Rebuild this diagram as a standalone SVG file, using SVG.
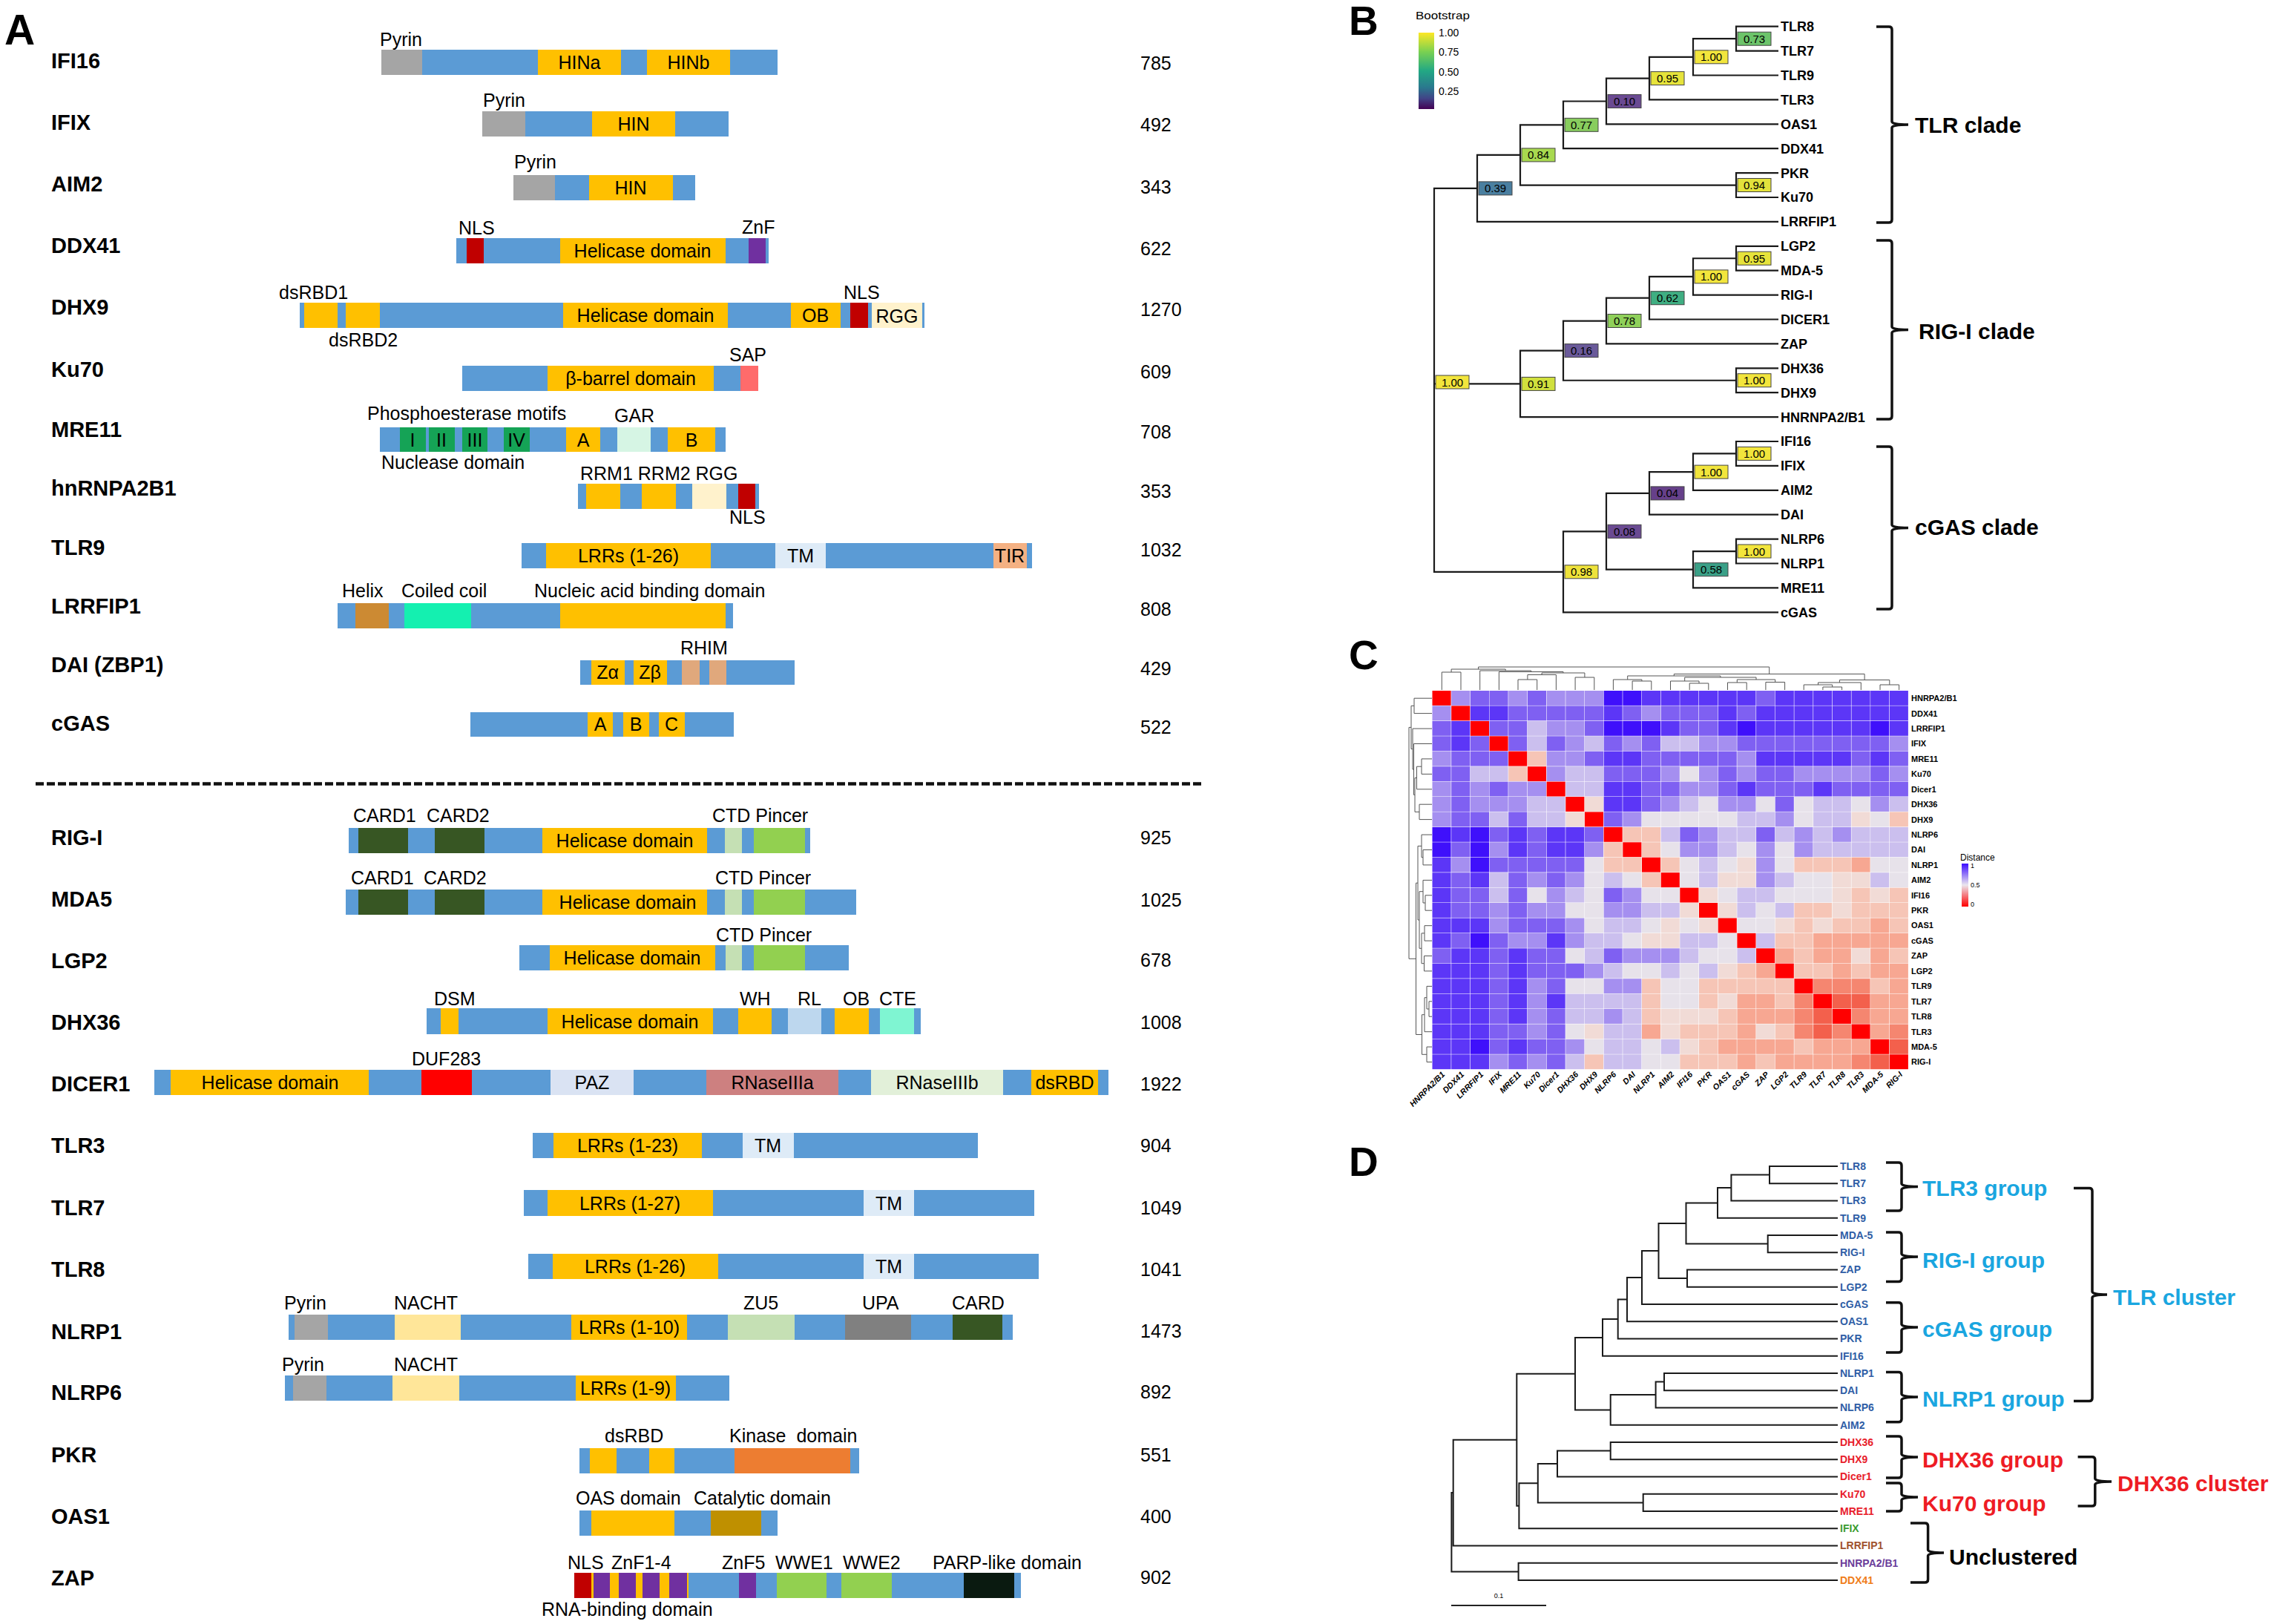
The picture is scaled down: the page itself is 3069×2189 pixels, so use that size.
<svg xmlns="http://www.w3.org/2000/svg" xmlns:xlink="http://www.w3.org/1999/xlink" width="3069" height="2189" viewBox="0 0 3069 2189">
<style>
text{font-family:"Liberation Sans",Arial,sans-serif;fill:#000}
.pl{font-size:55px;font-weight:bold}
.gn{font-size:29px;font-weight:bold}
.num{font-size:25px}
.al{font-size:25px}
.dl{font-size:25px;text-anchor:middle}
.bl{fill:#5b9bd5}.ye{fill:#ffc000}.gy{fill:#a5a5a5}.rd{fill:#c00000}.pu{fill:#7030a0}.cr{fill:#fff2cc}
.sap{fill:#ff6b6b}.gr{fill:#15a356}.gar{fill:#d6f5e4}.tm{fill:#deebf7}.tir{fill:#f4b183}.hx{fill:#cc8a33}
.cc{fill:#14f0b0}.rh{fill:#e0a87c}.dg{fill:#375623}.lg{fill:#c5e0b4}.pg{fill:#92d050}.rl{fill:#bdd7ee}
.cte{fill:#7ff5d2}.duf{fill:#ff0000}.paz{fill:#dae3f3}.r3a{fill:#cd8080}.r3b{fill:#e2f0d9}.na{fill:#ffe699}
.ua{fill:#808080}.ki{fill:#ed7d31}.ca{fill:#bf9000}.pa{fill:#0a1a10}
.tree{fill:none;stroke:#1a1a1a;stroke-width:2.2}
.brk{fill:none;stroke:#111;stroke-width:3.5}
.leafB{font-size:18px;font-weight:bold}
.bsb{stroke:#444;stroke-width:1}
.bst{font-size:15px;text-anchor:middle}
.clade{font-size:30px;font-weight:bold}
.hm use{stroke:none}
.k5{fill:#3f10fb}.k4{fill:#5c36f7}.k3{fill:#7f60f2}.k2{fill:#a58ff0}.k1{fill:#cbbfee}.k0{fill:#e7e2ea}
.ka{fill:#f1dbd6}.kb{fill:#f6c5b6}.kc{fill:#f7a792}.kd{fill:#f58670}.ke{fill:#f3604c}.kr{fill:#ff0000}
.dend{fill:none;stroke:#555;stroke-width:1}
.hl{font-size:11px;font-weight:bold}
.hc{font-size:11px;font-weight:bold;font-style:italic;text-anchor:end}
.leafD{font-size:14px;font-weight:bold}
text.lbD{fill:#2f5ea6}
text.lrD{fill:#e8202a}
.grp{font-size:30px;font-weight:bold}
text.cy{fill:#1aa6e0}
text.red{fill:#ee1c24}
</style>
<defs>
<rect id="c" width="25.1" height="19.9"/>
<linearGradient id="vir" x1="0" y1="0" x2="0" y2="1">
<stop offset="0" stop-color="#fde725"/><stop offset="0.25" stop-color="#7ad151"/><stop offset="0.5" stop-color="#22a884"/><stop offset="0.72" stop-color="#2a788e"/><stop offset="0.86" stop-color="#414487"/><stop offset="1" stop-color="#440154"/>
</linearGradient>
<linearGradient id="dist" x1="0" y1="0" x2="0" y2="1">
<stop offset="0" stop-color="#3c0cff"/><stop offset="0.5" stop-color="#ebe6ee"/><stop offset="1" stop-color="#ff0000"/>
</linearGradient>
</defs>
<rect width="3069" height="2189" fill="#fff"/>

<!-- ================= PANEL A ================= -->
<g id="panelA">
<text class="pl" x="6" y="60" style="font-size:57px">A</text>

<g id="IFI16">
<text class="gn" x="69" y="92">IFI16</text>
<rect class="bl" x="514" y="67" width="534" height="34"/>
<rect class="gy" x="514" y="67" width="55" height="34"/>
<rect class="ye" x="725" y="67" width="112" height="34"/>
<rect class="ye" x="872" y="67" width="112" height="34"/>
<text class="al" x="512" y="62">Pyrin</text>
<text class="dl" x="781" y="93">HINa</text>
<text class="dl" x="928" y="93">HINb</text>
<text class="num" x="1537" y="94">785</text>
</g>

<g id="IFIX">
<text class="gn" x="69" y="175">IFIX</text>
<rect class="bl" x="650" y="150" width="332" height="34"/>
<rect class="gy" x="650" y="150" width="58" height="34"/>
<rect class="ye" x="798" y="150" width="112" height="34"/>
<text class="al" x="651" y="144">Pyrin</text>
<text class="dl" x="854" y="176">HIN</text>
<text class="num" x="1537" y="177">492</text>
</g>

<g id="AIM2">
<text class="gn" x="69" y="258">AIM2</text>
<rect class="bl" x="692" y="236" width="245" height="34"/>
<rect class="gy" x="692" y="236" width="56" height="34"/>
<rect class="ye" x="794" y="236" width="113" height="34"/>
<text class="al" x="693" y="227">Pyrin</text>
<text class="dl" x="850" y="262">HIN</text>
<text class="num" x="1537" y="261">343</text>
</g>

<g id="DDX41">
<text class="gn" x="69" y="341">DDX41</text>
<rect class="bl" x="615" y="321" width="421" height="34"/>
<rect class="rd" x="629" y="321" width="23" height="34"/>
<rect class="ye" x="755" y="321" width="223" height="34"/>
<rect class="pu" x="1009" y="321" width="23" height="34"/>
<text class="al" x="618" y="316">NLS</text>
<text class="al" x="1000" y="315">ZnF</text>
<text class="dl" x="866" y="347">Helicase domain</text>
<text class="num" x="1537" y="344">622</text>
</g>

<g id="DHX9">
<text class="gn" x="69" y="424">DHX9</text>
<rect class="bl" x="404" y="408" width="842" height="34"/>
<rect class="ye" x="410" y="408" width="45" height="34"/>
<rect class="ye" x="466" y="408" width="46" height="34"/>
<rect class="ye" x="759" y="408" width="222" height="34"/>
<rect class="ye" x="1066" y="408" width="67" height="34"/>
<rect class="rd" x="1146" y="408" width="24" height="34"/>
<rect class="cr" x="1175" y="408" width="68" height="34"/>
<text class="al" x="376" y="403">dsRBD1</text>
<text class="al" x="443" y="467">dsRBD2</text>
<text class="al" x="1137" y="403">NLS</text>
<text class="dl" x="870" y="434">Helicase domain</text>
<text class="dl" x="1099" y="434">OB</text>
<text class="dl" x="1209" y="435">RGG</text>
<text class="num" x="1537" y="426">1270</text>
</g>

<g id="Ku70">
<text class="gn" x="69" y="508">Ku70</text>
<rect class="bl" x="623" y="493" width="399" height="34"/>
<rect class="ye" x="738" y="493" width="224" height="34"/>
<rect class="sap" x="998" y="493" width="24" height="34"/>
<text class="al" x="983" y="487">SAP</text>
<text class="dl" x="850" y="519">β-barrel domain</text>
<text class="num" x="1537" y="510">609</text>
</g>

<g id="MRE11">
<text class="gn" x="69" y="589">MRE11</text>
<rect class="bl" x="512" y="576" width="466" height="33"/>
<rect class="gr" x="539" y="576" width="35" height="33"/>
<rect class="gr" x="578" y="576" width="35" height="33"/>
<rect class="gr" x="623" y="576" width="34" height="33"/>
<rect class="gr" x="679" y="576" width="35" height="33"/>
<rect class="ye" x="763" y="576" width="46" height="33"/>
<rect class="gar" x="832" y="576" width="45" height="33"/>
<rect class="ye" x="900" y="576" width="64" height="33"/>
<text class="dl" x="556" y="602">I</text>
<text class="dl" x="595" y="602">II</text>
<text class="dl" x="640" y="602">III</text>
<text class="dl" x="696" y="602">IV</text>
<text class="dl" x="786" y="602">A</text>
<text class="dl" x="932" y="602">B</text>
<text class="al" x="495" y="566">Phosphoesterase motifs</text>
<text class="al" x="828" y="569">GAR</text>
<text class="al" x="514" y="632">Nuclease domain</text>
<text class="num" x="1537" y="591">708</text>
</g>

<g id="hnRNPA2B1">
<text class="gn" x="69" y="668">hnRNPA2B1</text>
<rect class="bl" x="779" y="652" width="244" height="34"/>
<rect class="ye" x="790" y="652" width="46" height="34"/>
<rect class="ye" x="865" y="652" width="46" height="34"/>
<rect class="cr" x="933" y="652" width="46" height="34"/>
<rect class="rd" x="995" y="652" width="23" height="34"/>
<text class="al" x="782" y="647">RRM1 RRM2 RGG</text>
<text class="al" x="983" y="706">NLS</text>
<text class="num" x="1537" y="671">353</text>
</g>

<g id="TLR9">
<text class="gn" x="69" y="748">TLR9</text>
<rect class="bl" x="703" y="732" width="688" height="34"/>
<rect class="ye" x="736" y="732" width="222" height="34"/>
<rect class="tm" x="1045" y="732" width="68" height="34"/>
<rect class="tir" x="1339" y="732" width="45" height="34"/>
<text class="dl" x="847" y="758">LRRs (1-26)</text>
<text class="dl" x="1079" y="758">TM</text>
<text class="dl" x="1361" y="758">TIR</text>
<text class="num" x="1537" y="750">1032</text>
</g>

<g id="LRRFIP1">
<text class="gn" x="69" y="827">LRRFIP1</text>
<rect class="bl" x="455" y="813" width="533" height="34"/>
<rect class="hx" x="479" y="813" width="45" height="34"/>
<rect class="cc" x="545" y="813" width="90" height="34"/>
<rect class="ye" x="755" y="813" width="223" height="34"/>
<text class="al" x="461" y="805">Helix</text>
<text class="al" x="541" y="805">Coiled coil</text>
<text class="al" x="720" y="805">Nucleic acid binding domain</text>
<text class="num" x="1537" y="830">808</text>
</g>

<g id="DAI">
<text class="gn" x="69" y="906">DAI (ZBP1)</text>
<rect class="bl" x="782" y="890" width="289" height="33"/>
<rect class="ye" x="797" y="890" width="45" height="33"/>
<rect class="ye" x="854" y="890" width="45" height="33"/>
<rect class="rh" x="919" y="890" width="24" height="33"/>
<rect class="rh" x="956" y="890" width="23" height="33"/>
<text class="dl" x="819" y="915">Zα</text>
<text class="dl" x="876" y="915">Zβ</text>
<text class="al" x="917" y="882">RHIM</text>
<text class="num" x="1537" y="910">429</text>
</g>

<g id="cGAS">
<text class="gn" x="69" y="985">cGAS</text>
<rect class="bl" x="634" y="960" width="355" height="33"/>
<rect class="ye" x="792" y="960" width="34" height="33"/>
<rect class="ye" x="840" y="960" width="35" height="33"/>
<rect class="ye" x="888" y="960" width="35" height="33"/>
<text class="dl" x="809" y="985">A</text>
<text class="dl" x="857" y="985">B</text>
<text class="dl" x="905" y="985">C</text>
<text class="num" x="1537" y="989">522</text>
</g>

<line x1="48" y1="1056.5" x2="1621" y2="1056.5" stroke="#111" stroke-width="4.5" stroke-dasharray="11 4"/>

<g id="RIG-I">
<text class="gn" x="69" y="1139">RIG-I</text>
<rect class="bl" x="470" y="1116" width="622" height="34"/>
<rect class="dg" x="483" y="1116" width="67" height="34"/>
<rect class="dg" x="586" y="1116" width="67" height="34"/>
<rect class="ye" x="731" y="1116" width="222" height="34"/>
<rect class="lg" x="977" y="1116" width="23" height="34"/>
<rect class="pg" x="1016" y="1116" width="69" height="34"/>
<text class="al" x="476" y="1108">CARD1</text>
<text class="al" x="575" y="1108">CARD2</text>
<text class="al" x="960" y="1108">CTD Pincer</text>
<text class="dl" x="842" y="1142">Helicase domain</text>
<text class="num" x="1537" y="1138">925</text>
</g>

<g id="MDA5">
<text class="gn" x="69" y="1222">MDA5</text>
<rect class="bl" x="466" y="1199" width="688" height="34"/>
<rect class="dg" x="483" y="1199" width="67" height="34"/>
<rect class="dg" x="586" y="1199" width="67" height="34"/>
<rect class="ye" x="731" y="1199" width="222" height="34"/>
<rect class="lg" x="977" y="1199" width="23" height="34"/>
<rect class="pg" x="1016" y="1199" width="69" height="34"/>
<text class="al" x="473" y="1192">CARD1</text>
<text class="al" x="571" y="1192">CARD2</text>
<text class="al" x="964" y="1192">CTD Pincer</text>
<text class="dl" x="846" y="1225">Helicase domain</text>
<text class="num" x="1537" y="1222">1025</text>
</g>

<g id="LGP2">
<text class="gn" x="69" y="1305">LGP2</text>
<rect class="bl" x="700" y="1274" width="444" height="34"/>
<rect class="ye" x="741" y="1274" width="223" height="34"/>
<rect class="lg" x="978" y="1274" width="22" height="34"/>
<rect class="pg" x="1016" y="1274" width="69" height="34"/>
<text class="al" x="965" y="1269">CTD Pincer</text>
<text class="dl" x="852" y="1300">Helicase domain</text>
<text class="num" x="1537" y="1303">678</text>
</g>

<g id="DHX36">
<text class="gn" x="69" y="1388">DHX36</text>
<rect class="bl" x="575" y="1359" width="666" height="35"/>
<rect class="ye" x="594" y="1359" width="24" height="35"/>
<rect class="ye" x="738" y="1359" width="223" height="35"/>
<rect class="ye" x="995" y="1359" width="45" height="35"/>
<rect class="rl" x="1062" y="1359" width="45" height="35"/>
<rect class="ye" x="1125" y="1359" width="46" height="35"/>
<rect class="cte" x="1186" y="1359" width="46" height="35"/>
<text class="al" x="585" y="1355">DSM</text>
<text class="al" x="997" y="1355">WH</text>
<text class="al" x="1075" y="1355">RL</text>
<text class="al" x="1136" y="1355">OB</text>
<text class="al" x="1185" y="1355">CTE</text>
<text class="dl" x="849" y="1386">Helicase domain</text>
<text class="num" x="1537" y="1387">1008</text>
</g>

<g id="DICER1">
<text class="gn" x="69" y="1471">DICER1</text>
<rect class="bl" x="208" y="1442" width="1286" height="34"/>
<rect class="ye" x="230" y="1442" width="267" height="34"/>
<rect class="duf" x="568" y="1442" width="68" height="34"/>
<rect class="paz" x="742" y="1442" width="112" height="34"/>
<rect class="r3a" x="952" y="1442" width="178" height="34"/>
<rect class="r3b" x="1174" y="1442" width="178" height="34"/>
<rect class="ye" x="1390" y="1442" width="90" height="34"/>
<text class="al" x="555" y="1436">DUF283</text>
<text class="dl" x="364" y="1468">Helicase domain</text>
<text class="dl" x="798" y="1468">PAZ</text>
<text class="dl" x="1041" y="1468">RNaseIIIa</text>
<text class="dl" x="1263" y="1468">RNaseIIIb</text>
<text class="dl" x="1435" y="1468">dsRBD</text>
<text class="num" x="1537" y="1470">1922</text>
</g>

<g id="TLR3">
<text class="gn" x="69" y="1554">TLR3</text>
<rect class="bl" x="718" y="1527" width="600" height="34"/>
<rect class="ye" x="746" y="1527" width="200" height="34"/>
<rect class="tm" x="1001" y="1527" width="69" height="34"/>
<text class="dl" x="846" y="1553">LRRs (1-23)</text>
<text class="dl" x="1035" y="1553">TM</text>
<text class="num" x="1537" y="1553">904</text>
</g>

<g id="TLR7">
<text class="gn" x="69" y="1638">TLR7</text>
<rect class="bl" x="706" y="1604" width="688" height="35"/>
<rect class="ye" x="738" y="1604" width="223" height="35"/>
<rect class="tm" x="1164" y="1604" width="68" height="35"/>
<text class="dl" x="849" y="1631">LRRs (1-27)</text>
<text class="dl" x="1198" y="1631">TM</text>
<text class="num" x="1537" y="1637">1049</text>
</g>

<g id="TLR8">
<text class="gn" x="69" y="1721">TLR8</text>
<rect class="bl" x="712" y="1690" width="688" height="34"/>
<rect class="ye" x="745" y="1690" width="223" height="34"/>
<rect class="tm" x="1164" y="1690" width="68" height="34"/>
<text class="dl" x="856" y="1716">LRRs (1-26)</text>
<text class="dl" x="1198" y="1716">TM</text>
<text class="num" x="1537" y="1720">1041</text>
</g>

<g id="NLRP1">
<text class="gn" x="69" y="1805">NLRP1</text>
<rect class="bl" x="389" y="1772" width="976" height="34"/>
<rect class="gy" x="397" y="1772" width="45" height="34"/>
<rect class="na" x="532" y="1772" width="89" height="34"/>
<rect class="ye" x="770" y="1772" width="156" height="34"/>
<rect class="lg" x="981" y="1772" width="90" height="34"/>
<rect class="ua" x="1139" y="1772" width="89" height="34"/>
<rect class="dg" x="1284" y="1772" width="67" height="34"/>
<text class="al" x="383" y="1765">Pyrin</text>
<text class="al" x="531" y="1765">NACHT</text>
<text class="al" x="1002" y="1765">ZU5</text>
<text class="al" x="1162" y="1765">UPA</text>
<text class="al" x="1283" y="1765">CARD</text>
<text class="dl" x="848" y="1798">LRRs (1-10)</text>
<text class="num" x="1537" y="1803">1473</text>
</g>

<g id="NLRP6">
<text class="gn" x="69" y="1887">NLRP6</text>
<rect class="bl" x="384" y="1854" width="599" height="34"/>
<rect class="gy" x="395" y="1854" width="45" height="34"/>
<rect class="na" x="529" y="1854" width="90" height="34"/>
<rect class="ye" x="776" y="1854" width="135" height="34"/>
<text class="al" x="380" y="1848">Pyrin</text>
<text class="al" x="531" y="1848">NACHT</text>
<text class="dl" x="843" y="1880">LRRs (1-9)</text>
<text class="num" x="1537" y="1885">892</text>
</g>

<g id="PKR">
<text class="gn" x="69" y="1971">PKR</text>
<rect class="bl" x="781" y="1952" width="377" height="34"/>
<rect class="ye" x="795" y="1952" width="36" height="34"/>
<rect class="ye" x="875" y="1952" width="34" height="34"/>
<rect class="ki" x="990" y="1952" width="156" height="34"/>
<text class="al" x="815" y="1944">dsRBD</text>
<text class="al" x="983" y="1944" style="word-spacing:7px">Kinase domain</text>
<text class="num" x="1537" y="1970">551</text>
</g>

<g id="OAS1">
<text class="gn" x="69" y="2054">OAS1</text>
<rect class="bl" x="781" y="2036" width="267" height="34"/>
<rect class="ye" x="797" y="2036" width="112" height="34"/>
<rect class="ca" x="958" y="2036" width="68" height="34"/>
<text class="al" x="776" y="2028">OAS domain</text>
<text class="al" x="935" y="2028">Catalytic domain</text>
<text class="num" x="1537" y="2053">400</text>
</g>

<g id="ZAP">
<text class="gn" x="69" y="2137">ZAP</text>
<rect class="bl" x="774" y="2120" width="602" height="34"/>
<rect class="rd" x="774" y="2120" width="23" height="34"/>
<rect class="ye" x="797" y="2120" width="131" height="34"/>
<rect class="pu" x="800" y="2120" width="22" height="34"/>
<rect class="pu" x="834" y="2120" width="23" height="34"/>
<rect class="pu" x="866" y="2120" width="23" height="34"/>
<rect class="pu" x="902" y="2120" width="24" height="34"/>
<rect class="pu" x="996" y="2120" width="23" height="34"/>
<rect class="pg" x="1047" y="2120" width="67" height="34"/>
<rect class="pg" x="1134" y="2120" width="68" height="34"/>
<rect class="pa" x="1299" y="2120" width="68" height="34"/>
<text class="al" x="765" y="2115">NLS</text>
<text class="al" x="824" y="2115">ZnF1-4</text>
<text class="al" x="973" y="2115">ZnF5</text>
<text class="al" x="1045" y="2115">WWE1</text>
<text class="al" x="1136" y="2115">WWE2</text>
<text class="al" x="1257" y="2115">PARP-like domain</text>
<text class="al" x="730" y="2178">RNA-binding domain</text>
<text class="num" x="1537" y="2135">902</text>
</g>
</g>

<!-- ================= PANEL B ================= -->
<g id="panelB">
<text class="pl" x="1818" y="47">B</text>
<g id="B-legend">
<text x="1908" y="26" style="font-size:15px" textLength="73" lengthAdjust="spacingAndGlyphs">Bootstrap</text>
<rect x="1912" y="44" width="21" height="103" fill="url(#vir)"/>
<text x="1939" y="49" style="font-size:14px">1.00</text>
<text x="1939" y="75" style="font-size:14px">0.75</text>
<text x="1939" y="102" style="font-size:14px">0.50</text>
<text x="1939" y="128" style="font-size:14px">0.25</text>
</g>
<g id="B-connectors">
<path class="tree" d="M2397 35.7H2340V68.6H2397 M2340 52.15H2282V101.5H2397 M2282 76.8H2223V134.4H2397 M2223 105.6H2165V167.3H2397 M2165 136.5H2107V200.2H2397 M2397 233.1H2340V266H2397 M2107 168.3H2049V249.55H2340 M2049 208.9H1991V298.9H2397
M2397 331.8H2340V364.7H2397 M2340 348.25H2282V397.6H2397 M2282 372.9H2223V430.5H2397 M2223 401.7H2165V463.4H2397 M2397 496.3H2340V529.2H2397 M2165 432.55H2107V512.75H2340 M2107 472.65H2049V562.1H2397
M2397 595H2340V627.9H2397 M2340 611.45H2282V660.8H2397 M2282 636.1H2223V693.7H2397 M2397 726.6H2340V759.5H2397 M2340 743.05H2282V792.4H2397 M2223 664.9H2165V767.7H2282 M2165 716.3H2107V825.3H2397
M1991 253.9H1933V770.8H2107 M1933 517.4H2049"/>
</g>
<g id="B-leaves">
<text class="leafB" x="2400" y="42">TLR8</text>
<text class="leafB" x="2400" y="75">TLR7</text>
<text class="leafB" x="2400" y="108">TLR9</text>
<text class="leafB" x="2400" y="141">TLR3</text>
<text class="leafB" x="2400" y="174">OAS1</text>
<text class="leafB" x="2400" y="207">DDX41</text>
<text class="leafB" x="2400" y="240">PKR</text>
<text class="leafB" x="2400" y="272">Ku70</text>
<text class="leafB" x="2400" y="305">LRRFIP1</text>
<text class="leafB" x="2400" y="338">LGP2</text>
<text class="leafB" x="2400" y="371">MDA-5</text>
<text class="leafB" x="2400" y="404">RIG-I</text>
<text class="leafB" x="2400" y="437">DICER1</text>
<text class="leafB" x="2400" y="470">ZAP</text>
<text class="leafB" x="2400" y="503">DHX36</text>
<text class="leafB" x="2400" y="536">DHX9</text>
<text class="leafB" x="2400" y="569">HNRNPA2/B1</text>
<text class="leafB" x="2400" y="601">IFI16</text>
<text class="leafB" x="2400" y="634">IFIX</text>
<text class="leafB" x="2400" y="667">AIM2</text>
<text class="leafB" x="2400" y="700">DAI</text>
<text class="leafB" x="2400" y="733">NLRP6</text>
<text class="leafB" x="2400" y="766">NLRP1</text>
<text class="leafB" x="2400" y="799">MRE11</text>
<text class="leafB" x="2400" y="832">cGAS</text>
</g>
<g id="B-bootstrap">
<rect class="bsb" x="2342" y="43.2" width="45" height="18" fill="#6cc46a"/><text class="bst" x="2364.5" y="57.7">0.73</text>
<rect class="bsb" x="2284" y="67.8" width="45" height="18" fill="#f2e53c"/><text class="bst" x="2306.5" y="82.3">1.00</text>
<rect class="bsb" x="2225" y="96.6" width="45" height="18" fill="#e6e33b"/><text class="bst" x="2247.5" y="111.1">0.95</text>
<rect class="bsb" x="2167" y="127.5" width="45" height="18" fill="#6a4a92"/><text class="bst" x="2189.5" y="142">0.10</text>
<rect class="bsb" x="2109" y="159.3" width="45" height="18" fill="#88cd5e"/><text class="bst" x="2131.5" y="173.8">0.77</text>
<rect class="bsb" x="2342" y="240.5" width="45" height="18" fill="#e3e23c"/><text class="bst" x="2364.5" y="255">0.94</text>
<rect class="bsb" x="2051" y="199.9" width="45" height="18" fill="#a8d94f"/><text class="bst" x="2073.5" y="214.4">0.84</text>
<rect class="bsb" x="1993" y="244.9" width="45" height="18" fill="#4a7fa0"/><text class="bst" x="2015.5" y="259.4">0.39</text>
<rect class="bsb" x="2342" y="339.2" width="45" height="18" fill="#e6e33b"/><text class="bst" x="2364.5" y="353.7">0.95</text>
<rect class="bsb" x="2284" y="363.9" width="45" height="18" fill="#f2e53c"/><text class="bst" x="2306.5" y="378.4">1.00</text>
<rect class="bsb" x="2225" y="392.7" width="45" height="18" fill="#3fae82"/><text class="bst" x="2247.5" y="407.2">0.62</text>
<rect class="bsb" x="2167" y="423.5" width="45" height="18" fill="#8fd05a"/><text class="bst" x="2189.5" y="438">0.78</text>
<rect class="bsb" x="2342" y="503.7" width="45" height="18" fill="#f2e53c"/><text class="bst" x="2364.5" y="518.2">1.00</text>
<rect class="bsb" x="2109" y="463.6" width="45" height="18" fill="#6a5a9a"/><text class="bst" x="2131.5" y="478.1">0.16</text>
<rect class="bsb" x="2051" y="508.4" width="45" height="18" fill="#d0e03d"/><text class="bst" x="2073.5" y="522.9">0.91</text>
<rect class="bsb" x="2342" y="602.4" width="45" height="18" fill="#f2e53c"/><text class="bst" x="2364.5" y="616.9">1.00</text>
<rect class="bsb" x="2284" y="627.1" width="45" height="18" fill="#f2e53c"/><text class="bst" x="2306.5" y="641.6">1.00</text>
<rect class="bsb" x="2225" y="655.9" width="45" height="18" fill="#66408a"/><text class="bst" x="2247.5" y="670.4">0.04</text>
<rect class="bsb" x="2342" y="734" width="45" height="18" fill="#f2e53c"/><text class="bst" x="2364.5" y="748.5">1.00</text>
<rect class="bsb" x="2284" y="758.7" width="45" height="18" fill="#3aa087"/><text class="bst" x="2306.5" y="773.2">0.58</text>
<rect class="bsb" x="2167" y="707.3" width="45" height="18" fill="#6a4a92"/><text class="bst" x="2189.5" y="721.8">0.08</text>
<rect class="bsb" x="2109" y="761.8" width="45" height="18" fill="#eee23a"/><text class="bst" x="2131.5" y="776.3">0.98</text>
<rect class="bsb" x="1935" y="506" width="45" height="18" fill="#f2e53c"/><text class="bst" x="1957.5" y="520.5">1.00</text>
</g>
<g id="B-clades">
<path class="brk" d="M2529 36H2546Q2550 36 2550 40V164Q2550 168 2572 168Q2550 168 2550 172V296Q2550 300 2546 300H2529"/>
<text class="clade" x="2581" y="179">TLR clade</text>
<path class="brk" d="M2529 324H2546Q2550 324 2550 328V440.5Q2550 444.5 2572 444.5Q2550 444.5 2550 448.5V561Q2550 565 2546 565H2529"/>
<text class="clade" x="2586" y="457">RIG-I clade</text>
<path class="brk" d="M2529 602H2546Q2550 602 2550 606V707.5Q2550 711.5 2572 711.5Q2550 711.5 2550 715.5V817Q2550 821 2546 821H2529"/>
<text class="clade" x="2581" y="721">cGAS clade</text>
</g>
</g>

<!-- ================= PANEL C ================= -->
<g id="panelC">
<text class="pl" x="1818" y="902">C</text>
<g id="C-heatmap" class="hm">
<g transform="translate(0,931)"><use href="#c" x="1930.5" class="kr"/><use href="#c" x="1956.2" class="k2"/><use href="#c" x="1981.9" class="k3"/><use href="#c" x="2007.5" class="k3"/><use href="#c" x="2033.2" class="k2"/><use href="#c" x="2058.9" class="k3"/><use href="#c" x="2084.6" class="k2"/><use href="#c" x="2110.3" class="k2"/><use href="#c" x="2135.9" class="k2"/><use href="#c" x="2161.6" class="k5"/><use href="#c" x="2187.3" class="k5"/><use href="#c" x="2213" class="k4"/><use href="#c" x="2238.7" class="k4"/><use href="#c" x="2264.3" class="k4"/><use href="#c" x="2290" class="k4"/><use href="#c" x="2315.7" class="k4"/><use href="#c" x="2341.4" class="k4"/><use href="#c" x="2367.1" class="k3"/><use href="#c" x="2392.7" class="k4"/><use href="#c" x="2418.4" class="k4"/><use href="#c" x="2444.1" class="k4"/><use href="#c" x="2469.8" class="k4"/><use href="#c" x="2495.5" class="k4"/><use href="#c" x="2521.1" class="k4"/><use href="#c" x="2546.8" class="k4"/></g>
<g transform="translate(0,951.4)"><use href="#c" x="1930.5" class="k2"/><use href="#c" x="1956.2" class="kr"/><use href="#c" x="1981.9" class="k4"/><use href="#c" x="2007.5" class="k4"/><use href="#c" x="2033.2" class="k3"/><use href="#c" x="2058.9" class="k3"/><use href="#c" x="2084.6" class="k3"/><use href="#c" x="2110.3" class="k3"/><use href="#c" x="2135.9" class="k3"/><use href="#c" x="2161.6" class="k4"/><use href="#c" x="2187.3" class="k3"/><use href="#c" x="2213" class="k2"/><use href="#c" x="2238.7" class="k3"/><use href="#c" x="2264.3" class="k3"/><use href="#c" x="2290" class="k3"/><use href="#c" x="2315.7" class="k4"/><use href="#c" x="2341.4" class="k3"/><use href="#c" x="2367.1" class="k4"/><use href="#c" x="2392.7" class="k4"/><use href="#c" x="2418.4" class="k4"/><use href="#c" x="2444.1" class="k4"/><use href="#c" x="2469.8" class="k4"/><use href="#c" x="2495.5" class="k4"/><use href="#c" x="2521.1" class="k4"/><use href="#c" x="2546.8" class="k4"/></g>
<g transform="translate(0,971.9)"><use href="#c" x="1930.5" class="k3"/><use href="#c" x="1956.2" class="k4"/><use href="#c" x="1981.9" class="kr"/><use href="#c" x="2007.5" class="k3"/><use href="#c" x="2033.2" class="k3"/><use href="#c" x="2058.9" class="k1"/><use href="#c" x="2084.6" class="k2"/><use href="#c" x="2110.3" class="k2"/><use href="#c" x="2135.9" class="k3"/><use href="#c" x="2161.6" class="k5"/><use href="#c" x="2187.3" class="k5"/><use href="#c" x="2213" class="k5"/><use href="#c" x="2238.7" class="k4"/><use href="#c" x="2264.3" class="k3"/><use href="#c" x="2290" class="k3"/><use href="#c" x="2315.7" class="k4"/><use href="#c" x="2341.4" class="k5"/><use href="#c" x="2367.1" class="k4"/><use href="#c" x="2392.7" class="k4"/><use href="#c" x="2418.4" class="k4"/><use href="#c" x="2444.1" class="k4"/><use href="#c" x="2469.8" class="k4"/><use href="#c" x="2495.5" class="k4"/><use href="#c" x="2521.1" class="k5"/><use href="#c" x="2546.8" class="k4"/></g>
<g transform="translate(0,992.3)"><use href="#c" x="1930.5" class="k3"/><use href="#c" x="1956.2" class="k4"/><use href="#c" x="1981.9" class="k3"/><use href="#c" x="2007.5" class="kr"/><use href="#c" x="2033.2" class="k3"/><use href="#c" x="2058.9" class="k1"/><use href="#c" x="2084.6" class="k3"/><use href="#c" x="2110.3" class="k2"/><use href="#c" x="2135.9" class="k1"/><use href="#c" x="2161.6" class="k3"/><use href="#c" x="2187.3" class="k2"/><use href="#c" x="2213" class="k3"/><use href="#c" x="2238.7" class="k1"/><use href="#c" x="2264.3" class="k1"/><use href="#c" x="2290" class="k2"/><use href="#c" x="2315.7" class="k2"/><use href="#c" x="2341.4" class="k3"/><use href="#c" x="2367.1" class="k3"/><use href="#c" x="2392.7" class="k3"/><use href="#c" x="2418.4" class="k3"/><use href="#c" x="2444.1" class="k3"/><use href="#c" x="2469.8" class="k3"/><use href="#c" x="2495.5" class="k3"/><use href="#c" x="2521.1" class="k3"/><use href="#c" x="2546.8" class="k2"/></g>
<g transform="translate(0,1012.7)"><use href="#c" x="1930.5" class="k2"/><use href="#c" x="1956.2" class="k3"/><use href="#c" x="1981.9" class="k3"/><use href="#c" x="2007.5" class="k3"/><use href="#c" x="2033.2" class="kr"/><use href="#c" x="2058.9" class="kb"/><use href="#c" x="2084.6" class="k2"/><use href="#c" x="2110.3" class="k2"/><use href="#c" x="2135.9" class="k3"/><use href="#c" x="2161.6" class="k4"/><use href="#c" x="2187.3" class="k4"/><use href="#c" x="2213" class="k3"/><use href="#c" x="2238.7" class="k3"/><use href="#c" x="2264.3" class="k3"/><use href="#c" x="2290" class="k3"/><use href="#c" x="2315.7" class="k3"/><use href="#c" x="2341.4" class="k2"/><use href="#c" x="2367.1" class="k4"/><use href="#c" x="2392.7" class="k4"/><use href="#c" x="2418.4" class="k4"/><use href="#c" x="2444.1" class="k4"/><use href="#c" x="2469.8" class="k4"/><use href="#c" x="2495.5" class="k3"/><use href="#c" x="2521.1" class="k4"/><use href="#c" x="2546.8" class="k3"/></g>
<g transform="translate(0,1033.2)"><use href="#c" x="1930.5" class="k3"/><use href="#c" x="1956.2" class="k3"/><use href="#c" x="1981.9" class="k1"/><use href="#c" x="2007.5" class="k1"/><use href="#c" x="2033.2" class="kb"/><use href="#c" x="2058.9" class="kr"/><use href="#c" x="2084.6" class="k2"/><use href="#c" x="2110.3" class="k1"/><use href="#c" x="2135.9" class="k1"/><use href="#c" x="2161.6" class="k3"/><use href="#c" x="2187.3" class="k3"/><use href="#c" x="2213" class="k3"/><use href="#c" x="2238.7" class="k2"/><use href="#c" x="2264.3" class="k0"/><use href="#c" x="2290" class="k2"/><use href="#c" x="2315.7" class="k3"/><use href="#c" x="2341.4" class="k2"/><use href="#c" x="2367.1" class="k3"/><use href="#c" x="2392.7" class="k3"/><use href="#c" x="2418.4" class="k2"/><use href="#c" x="2444.1" class="k2"/><use href="#c" x="2469.8" class="k2"/><use href="#c" x="2495.5" class="k2"/><use href="#c" x="2521.1" class="k3"/><use href="#c" x="2546.8" class="k2"/></g>
<g transform="translate(0,1053.6)"><use href="#c" x="1930.5" class="k2"/><use href="#c" x="1956.2" class="k3"/><use href="#c" x="1981.9" class="k2"/><use href="#c" x="2007.5" class="k3"/><use href="#c" x="2033.2" class="k2"/><use href="#c" x="2058.9" class="k2"/><use href="#c" x="2084.6" class="kr"/><use href="#c" x="2110.3" class="k1"/><use href="#c" x="2135.9" class="k1"/><use href="#c" x="2161.6" class="k4"/><use href="#c" x="2187.3" class="k4"/><use href="#c" x="2213" class="k3"/><use href="#c" x="2238.7" class="k3"/><use href="#c" x="2264.3" class="k2"/><use href="#c" x="2290" class="k2"/><use href="#c" x="2315.7" class="k3"/><use href="#c" x="2341.4" class="k4"/><use href="#c" x="2367.1" class="k3"/><use href="#c" x="2392.7" class="k3"/><use href="#c" x="2418.4" class="k3"/><use href="#c" x="2444.1" class="k4"/><use href="#c" x="2469.8" class="k3"/><use href="#c" x="2495.5" class="k3"/><use href="#c" x="2521.1" class="k3"/><use href="#c" x="2546.8" class="k3"/></g>
<g transform="translate(0,1074)"><use href="#c" x="1930.5" class="k2"/><use href="#c" x="1956.2" class="k3"/><use href="#c" x="1981.9" class="k2"/><use href="#c" x="2007.5" class="k2"/><use href="#c" x="2033.2" class="k2"/><use href="#c" x="2058.9" class="k1"/><use href="#c" x="2084.6" class="k1"/><use href="#c" x="2110.3" class="kr"/><use href="#c" x="2135.9" class="ka"/><use href="#c" x="2161.6" class="k4"/><use href="#c" x="2187.3" class="k4"/><use href="#c" x="2213" class="k3"/><use href="#c" x="2238.7" class="k2"/><use href="#c" x="2264.3" class="k1"/><use href="#c" x="2290" class="k0"/><use href="#c" x="2315.7" class="k2"/><use href="#c" x="2341.4" class="k2"/><use href="#c" x="2367.1" class="k0"/><use href="#c" x="2392.7" class="k3"/><use href="#c" x="2418.4" class="k0"/><use href="#c" x="2444.1" class="k1"/><use href="#c" x="2469.8" class="k1"/><use href="#c" x="2495.5" class="k0"/><use href="#c" x="2521.1" class="k2"/><use href="#c" x="2546.8" class="k1"/></g>
<g transform="translate(0,1094.4)"><use href="#c" x="1930.5" class="k2"/><use href="#c" x="1956.2" class="k3"/><use href="#c" x="1981.9" class="k3"/><use href="#c" x="2007.5" class="k1"/><use href="#c" x="2033.2" class="k3"/><use href="#c" x="2058.9" class="k1"/><use href="#c" x="2084.6" class="k1"/><use href="#c" x="2110.3" class="ka"/><use href="#c" x="2135.9" class="kr"/><use href="#c" x="2161.6" class="k3"/><use href="#c" x="2187.3" class="k2"/><use href="#c" x="2213" class="k0"/><use href="#c" x="2238.7" class="k0"/><use href="#c" x="2264.3" class="k0"/><use href="#c" x="2290" class="k0"/><use href="#c" x="2315.7" class="k0"/><use href="#c" x="2341.4" class="k1"/><use href="#c" x="2367.1" class="k1"/><use href="#c" x="2392.7" class="k2"/><use href="#c" x="2418.4" class="k0"/><use href="#c" x="2444.1" class="k1"/><use href="#c" x="2469.8" class="k1"/><use href="#c" x="2495.5" class="ka"/><use href="#c" x="2521.1" class="k0"/><use href="#c" x="2546.8" class="kb"/></g>
<g transform="translate(0,1114.9)"><use href="#c" x="1930.5" class="k5"/><use href="#c" x="1956.2" class="k4"/><use href="#c" x="1981.9" class="k5"/><use href="#c" x="2007.5" class="k3"/><use href="#c" x="2033.2" class="k4"/><use href="#c" x="2058.9" class="k3"/><use href="#c" x="2084.6" class="k4"/><use href="#c" x="2110.3" class="k4"/><use href="#c" x="2135.9" class="k3"/><use href="#c" x="2161.6" class="kr"/><use href="#c" x="2187.3" class="kb"/><use href="#c" x="2213" class="kb"/><use href="#c" x="2238.7" class="k1"/><use href="#c" x="2264.3" class="k3"/><use href="#c" x="2290" class="k2"/><use href="#c" x="2315.7" class="k1"/><use href="#c" x="2341.4" class="k1"/><use href="#c" x="2367.1" class="k3"/><use href="#c" x="2392.7" class="k1"/><use href="#c" x="2418.4" class="k2"/><use href="#c" x="2444.1" class="k1"/><use href="#c" x="2469.8" class="k2"/><use href="#c" x="2495.5" class="k1"/><use href="#c" x="2521.1" class="k1"/><use href="#c" x="2546.8" class="k1"/></g>
<g transform="translate(0,1135.3)"><use href="#c" x="1930.5" class="k5"/><use href="#c" x="1956.2" class="k3"/><use href="#c" x="1981.9" class="k5"/><use href="#c" x="2007.5" class="k2"/><use href="#c" x="2033.2" class="k4"/><use href="#c" x="2058.9" class="k3"/><use href="#c" x="2084.6" class="k4"/><use href="#c" x="2110.3" class="k4"/><use href="#c" x="2135.9" class="k2"/><use href="#c" x="2161.6" class="kb"/><use href="#c" x="2187.3" class="kr"/><use href="#c" x="2213" class="kb"/><use href="#c" x="2238.7" class="k0"/><use href="#c" x="2264.3" class="k2"/><use href="#c" x="2290" class="k2"/><use href="#c" x="2315.7" class="k1"/><use href="#c" x="2341.4" class="k0"/><use href="#c" x="2367.1" class="k2"/><use href="#c" x="2392.7" class="k0"/><use href="#c" x="2418.4" class="k2"/><use href="#c" x="2444.1" class="k1"/><use href="#c" x="2469.8" class="k1"/><use href="#c" x="2495.5" class="k1"/><use href="#c" x="2521.1" class="k1"/><use href="#c" x="2546.8" class="k1"/></g>
<g transform="translate(0,1155.7)"><use href="#c" x="1930.5" class="k4"/><use href="#c" x="1956.2" class="k2"/><use href="#c" x="1981.9" class="k5"/><use href="#c" x="2007.5" class="k3"/><use href="#c" x="2033.2" class="k3"/><use href="#c" x="2058.9" class="k3"/><use href="#c" x="2084.6" class="k3"/><use href="#c" x="2110.3" class="k3"/><use href="#c" x="2135.9" class="k0"/><use href="#c" x="2161.6" class="kb"/><use href="#c" x="2187.3" class="kb"/><use href="#c" x="2213" class="kr"/><use href="#c" x="2238.7" class="kb"/><use href="#c" x="2264.3" class="k0"/><use href="#c" x="2290" class="k1"/><use href="#c" x="2315.7" class="k0"/><use href="#c" x="2341.4" class="ka"/><use href="#c" x="2367.1" class="k2"/><use href="#c" x="2392.7" class="k0"/><use href="#c" x="2418.4" class="kb"/><use href="#c" x="2444.1" class="kb"/><use href="#c" x="2469.8" class="kb"/><use href="#c" x="2495.5" class="kc"/><use href="#c" x="2521.1" class="k0"/><use href="#c" x="2546.8" class="k0"/></g>
<g transform="translate(0,1176.2)"><use href="#c" x="1930.5" class="k4"/><use href="#c" x="1956.2" class="k3"/><use href="#c" x="1981.9" class="k4"/><use href="#c" x="2007.5" class="k1"/><use href="#c" x="2033.2" class="k3"/><use href="#c" x="2058.9" class="k2"/><use href="#c" x="2084.6" class="k3"/><use href="#c" x="2110.3" class="k2"/><use href="#c" x="2135.9" class="k0"/><use href="#c" x="2161.6" class="k1"/><use href="#c" x="2187.3" class="k0"/><use href="#c" x="2213" class="kb"/><use href="#c" x="2238.7" class="kr"/><use href="#c" x="2264.3" class="k0"/><use href="#c" x="2290" class="k1"/><use href="#c" x="2315.7" class="ka"/><use href="#c" x="2341.4" class="ka"/><use href="#c" x="2367.1" class="k2"/><use href="#c" x="2392.7" class="k1"/><use href="#c" x="2418.4" class="k0"/><use href="#c" x="2444.1" class="k0"/><use href="#c" x="2469.8" class="ka"/><use href="#c" x="2495.5" class="ka"/><use href="#c" x="2521.1" class="k1"/><use href="#c" x="2546.8" class="k0"/></g>
<g transform="translate(0,1196.6)"><use href="#c" x="1930.5" class="k4"/><use href="#c" x="1956.2" class="k3"/><use href="#c" x="1981.9" class="k3"/><use href="#c" x="2007.5" class="k1"/><use href="#c" x="2033.2" class="k3"/><use href="#c" x="2058.9" class="k0"/><use href="#c" x="2084.6" class="k2"/><use href="#c" x="2110.3" class="k1"/><use href="#c" x="2135.9" class="k0"/><use href="#c" x="2161.6" class="k3"/><use href="#c" x="2187.3" class="k2"/><use href="#c" x="2213" class="k0"/><use href="#c" x="2238.7" class="k0"/><use href="#c" x="2264.3" class="kr"/><use href="#c" x="2290" class="ka"/><use href="#c" x="2315.7" class="k0"/><use href="#c" x="2341.4" class="k1"/><use href="#c" x="2367.1" class="k1"/><use href="#c" x="2392.7" class="k0"/><use href="#c" x="2418.4" class="k0"/><use href="#c" x="2444.1" class="k0"/><use href="#c" x="2469.8" class="ka"/><use href="#c" x="2495.5" class="kb"/><use href="#c" x="2521.1" class="ka"/><use href="#c" x="2546.8" class="kb"/></g>
<g transform="translate(0,1217)"><use href="#c" x="1930.5" class="k4"/><use href="#c" x="1956.2" class="k3"/><use href="#c" x="1981.9" class="k3"/><use href="#c" x="2007.5" class="k2"/><use href="#c" x="2033.2" class="k3"/><use href="#c" x="2058.9" class="k2"/><use href="#c" x="2084.6" class="k2"/><use href="#c" x="2110.3" class="k0"/><use href="#c" x="2135.9" class="k0"/><use href="#c" x="2161.6" class="k2"/><use href="#c" x="2187.3" class="k2"/><use href="#c" x="2213" class="k1"/><use href="#c" x="2238.7" class="k1"/><use href="#c" x="2264.3" class="ka"/><use href="#c" x="2290" class="kr"/><use href="#c" x="2315.7" class="ka"/><use href="#c" x="2341.4" class="k1"/><use href="#c" x="2367.1" class="k0"/><use href="#c" x="2392.7" class="k1"/><use href="#c" x="2418.4" class="kb"/><use href="#c" x="2444.1" class="kb"/><use href="#c" x="2469.8" class="ka"/><use href="#c" x="2495.5" class="kb"/><use href="#c" x="2521.1" class="kb"/><use href="#c" x="2546.8" class="kb"/></g>
<g transform="translate(0,1237.5)"><use href="#c" x="1930.5" class="k4"/><use href="#c" x="1956.2" class="k4"/><use href="#c" x="1981.9" class="k4"/><use href="#c" x="2007.5" class="k2"/><use href="#c" x="2033.2" class="k3"/><use href="#c" x="2058.9" class="k3"/><use href="#c" x="2084.6" class="k3"/><use href="#c" x="2110.3" class="k2"/><use href="#c" x="2135.9" class="k0"/><use href="#c" x="2161.6" class="k1"/><use href="#c" x="2187.3" class="k1"/><use href="#c" x="2213" class="k0"/><use href="#c" x="2238.7" class="ka"/><use href="#c" x="2264.3" class="k0"/><use href="#c" x="2290" class="ka"/><use href="#c" x="2315.7" class="kr"/><use href="#c" x="2341.4" class="k0"/><use href="#c" x="2367.1" class="k0"/><use href="#c" x="2392.7" class="ka"/><use href="#c" x="2418.4" class="kb"/><use href="#c" x="2444.1" class="ka"/><use href="#c" x="2469.8" class="kb"/><use href="#c" x="2495.5" class="kb"/><use href="#c" x="2521.1" class="kc"/><use href="#c" x="2546.8" class="kb"/></g>
<g transform="translate(0,1257.9)"><use href="#c" x="1930.5" class="k4"/><use href="#c" x="1956.2" class="k3"/><use href="#c" x="1981.9" class="k5"/><use href="#c" x="2007.5" class="k3"/><use href="#c" x="2033.2" class="k2"/><use href="#c" x="2058.9" class="k2"/><use href="#c" x="2084.6" class="k4"/><use href="#c" x="2110.3" class="k2"/><use href="#c" x="2135.9" class="k1"/><use href="#c" x="2161.6" class="k1"/><use href="#c" x="2187.3" class="k0"/><use href="#c" x="2213" class="ka"/><use href="#c" x="2238.7" class="ka"/><use href="#c" x="2264.3" class="k1"/><use href="#c" x="2290" class="k1"/><use href="#c" x="2315.7" class="k0"/><use href="#c" x="2341.4" class="kr"/><use href="#c" x="2367.1" class="k1"/><use href="#c" x="2392.7" class="kb"/><use href="#c" x="2418.4" class="kb"/><use href="#c" x="2444.1" class="kc"/><use href="#c" x="2469.8" class="kc"/><use href="#c" x="2495.5" class="kc"/><use href="#c" x="2521.1" class="kc"/><use href="#c" x="2546.8" class="kc"/></g>
<g transform="translate(0,1278.3)"><use href="#c" x="1930.5" class="k3"/><use href="#c" x="1956.2" class="k4"/><use href="#c" x="1981.9" class="k4"/><use href="#c" x="2007.5" class="k3"/><use href="#c" x="2033.2" class="k4"/><use href="#c" x="2058.9" class="k3"/><use href="#c" x="2084.6" class="k3"/><use href="#c" x="2110.3" class="k0"/><use href="#c" x="2135.9" class="k1"/><use href="#c" x="2161.6" class="k3"/><use href="#c" x="2187.3" class="k2"/><use href="#c" x="2213" class="k2"/><use href="#c" x="2238.7" class="k2"/><use href="#c" x="2264.3" class="k1"/><use href="#c" x="2290" class="k0"/><use href="#c" x="2315.7" class="k0"/><use href="#c" x="2341.4" class="k1"/><use href="#c" x="2367.1" class="kr"/><use href="#c" x="2392.7" class="kc"/><use href="#c" x="2418.4" class="kb"/><use href="#c" x="2444.1" class="kc"/><use href="#c" x="2469.8" class="kc"/><use href="#c" x="2495.5" class="ka"/><use href="#c" x="2521.1" class="kc"/><use href="#c" x="2546.8" class="kb"/></g>
<g transform="translate(0,1298.7)"><use href="#c" x="1930.5" class="k4"/><use href="#c" x="1956.2" class="k4"/><use href="#c" x="1981.9" class="k4"/><use href="#c" x="2007.5" class="k3"/><use href="#c" x="2033.2" class="k4"/><use href="#c" x="2058.9" class="k3"/><use href="#c" x="2084.6" class="k3"/><use href="#c" x="2110.3" class="k3"/><use href="#c" x="2135.9" class="k2"/><use href="#c" x="2161.6" class="k1"/><use href="#c" x="2187.3" class="k0"/><use href="#c" x="2213" class="k0"/><use href="#c" x="2238.7" class="k1"/><use href="#c" x="2264.3" class="k0"/><use href="#c" x="2290" class="k1"/><use href="#c" x="2315.7" class="ka"/><use href="#c" x="2341.4" class="kb"/><use href="#c" x="2367.1" class="kc"/><use href="#c" x="2392.7" class="kr"/><use href="#c" x="2418.4" class="kb"/><use href="#c" x="2444.1" class="kb"/><use href="#c" x="2469.8" class="kc"/><use href="#c" x="2495.5" class="kb"/><use href="#c" x="2521.1" class="kc"/><use href="#c" x="2546.8" class="kc"/></g>
<g transform="translate(0,1319.2)"><use href="#c" x="1930.5" class="k4"/><use href="#c" x="1956.2" class="k4"/><use href="#c" x="1981.9" class="k4"/><use href="#c" x="2007.5" class="k3"/><use href="#c" x="2033.2" class="k4"/><use href="#c" x="2058.9" class="k2"/><use href="#c" x="2084.6" class="k3"/><use href="#c" x="2110.3" class="k0"/><use href="#c" x="2135.9" class="k0"/><use href="#c" x="2161.6" class="k2"/><use href="#c" x="2187.3" class="k2"/><use href="#c" x="2213" class="kb"/><use href="#c" x="2238.7" class="k0"/><use href="#c" x="2264.3" class="k0"/><use href="#c" x="2290" class="kb"/><use href="#c" x="2315.7" class="kb"/><use href="#c" x="2341.4" class="kb"/><use href="#c" x="2367.1" class="kb"/><use href="#c" x="2392.7" class="kb"/><use href="#c" x="2418.4" class="kr"/><use href="#c" x="2444.1" class="kd"/><use href="#c" x="2469.8" class="kd"/><use href="#c" x="2495.5" class="kd"/><use href="#c" x="2521.1" class="kb"/><use href="#c" x="2546.8" class="kc"/></g>
<g transform="translate(0,1339.6)"><use href="#c" x="1930.5" class="k4"/><use href="#c" x="1956.2" class="k4"/><use href="#c" x="1981.9" class="k4"/><use href="#c" x="2007.5" class="k3"/><use href="#c" x="2033.2" class="k4"/><use href="#c" x="2058.9" class="k2"/><use href="#c" x="2084.6" class="k4"/><use href="#c" x="2110.3" class="k1"/><use href="#c" x="2135.9" class="k1"/><use href="#c" x="2161.6" class="k1"/><use href="#c" x="2187.3" class="k1"/><use href="#c" x="2213" class="kb"/><use href="#c" x="2238.7" class="k0"/><use href="#c" x="2264.3" class="k0"/><use href="#c" x="2290" class="kb"/><use href="#c" x="2315.7" class="ka"/><use href="#c" x="2341.4" class="kc"/><use href="#c" x="2367.1" class="kc"/><use href="#c" x="2392.7" class="kb"/><use href="#c" x="2418.4" class="kd"/><use href="#c" x="2444.1" class="kr"/><use href="#c" x="2469.8" class="ke"/><use href="#c" x="2495.5" class="ke"/><use href="#c" x="2521.1" class="kc"/><use href="#c" x="2546.8" class="kc"/></g>
<g transform="translate(0,1360)"><use href="#c" x="1930.5" class="k4"/><use href="#c" x="1956.2" class="k4"/><use href="#c" x="1981.9" class="k4"/><use href="#c" x="2007.5" class="k3"/><use href="#c" x="2033.2" class="k4"/><use href="#c" x="2058.9" class="k2"/><use href="#c" x="2084.6" class="k3"/><use href="#c" x="2110.3" class="k1"/><use href="#c" x="2135.9" class="k1"/><use href="#c" x="2161.6" class="k2"/><use href="#c" x="2187.3" class="k1"/><use href="#c" x="2213" class="kb"/><use href="#c" x="2238.7" class="ka"/><use href="#c" x="2264.3" class="ka"/><use href="#c" x="2290" class="ka"/><use href="#c" x="2315.7" class="kb"/><use href="#c" x="2341.4" class="kc"/><use href="#c" x="2367.1" class="kc"/><use href="#c" x="2392.7" class="kc"/><use href="#c" x="2418.4" class="kd"/><use href="#c" x="2444.1" class="ke"/><use href="#c" x="2469.8" class="kr"/><use href="#c" x="2495.5" class="kd"/><use href="#c" x="2521.1" class="kc"/><use href="#c" x="2546.8" class="kc"/></g>
<g transform="translate(0,1380.5)"><use href="#c" x="1930.5" class="k4"/><use href="#c" x="1956.2" class="k4"/><use href="#c" x="1981.9" class="k4"/><use href="#c" x="2007.5" class="k3"/><use href="#c" x="2033.2" class="k3"/><use href="#c" x="2058.9" class="k2"/><use href="#c" x="2084.6" class="k3"/><use href="#c" x="2110.3" class="k0"/><use href="#c" x="2135.9" class="ka"/><use href="#c" x="2161.6" class="k1"/><use href="#c" x="2187.3" class="k1"/><use href="#c" x="2213" class="kc"/><use href="#c" x="2238.7" class="ka"/><use href="#c" x="2264.3" class="kb"/><use href="#c" x="2290" class="kb"/><use href="#c" x="2315.7" class="kb"/><use href="#c" x="2341.4" class="kc"/><use href="#c" x="2367.1" class="ka"/><use href="#c" x="2392.7" class="kb"/><use href="#c" x="2418.4" class="kd"/><use href="#c" x="2444.1" class="ke"/><use href="#c" x="2469.8" class="kd"/><use href="#c" x="2495.5" class="kr"/><use href="#c" x="2521.1" class="kc"/><use href="#c" x="2546.8" class="kd"/></g>
<g transform="translate(0,1400.9)"><use href="#c" x="1930.5" class="k4"/><use href="#c" x="1956.2" class="k4"/><use href="#c" x="1981.9" class="k5"/><use href="#c" x="2007.5" class="k3"/><use href="#c" x="2033.2" class="k4"/><use href="#c" x="2058.9" class="k3"/><use href="#c" x="2084.6" class="k3"/><use href="#c" x="2110.3" class="k2"/><use href="#c" x="2135.9" class="k0"/><use href="#c" x="2161.6" class="k1"/><use href="#c" x="2187.3" class="k1"/><use href="#c" x="2213" class="k0"/><use href="#c" x="2238.7" class="k1"/><use href="#c" x="2264.3" class="ka"/><use href="#c" x="2290" class="kb"/><use href="#c" x="2315.7" class="kc"/><use href="#c" x="2341.4" class="kc"/><use href="#c" x="2367.1" class="kc"/><use href="#c" x="2392.7" class="kc"/><use href="#c" x="2418.4" class="kb"/><use href="#c" x="2444.1" class="kc"/><use href="#c" x="2469.8" class="kc"/><use href="#c" x="2495.5" class="kc"/><use href="#c" x="2521.1" class="kr"/><use href="#c" x="2546.8" class="ke"/></g>
<g transform="translate(0,1421.3)"><use href="#c" x="1930.5" class="k4"/><use href="#c" x="1956.2" class="k4"/><use href="#c" x="1981.9" class="k4"/><use href="#c" x="2007.5" class="k2"/><use href="#c" x="2033.2" class="k3"/><use href="#c" x="2058.9" class="k2"/><use href="#c" x="2084.6" class="k3"/><use href="#c" x="2110.3" class="k1"/><use href="#c" x="2135.9" class="kb"/><use href="#c" x="2161.6" class="k1"/><use href="#c" x="2187.3" class="k1"/><use href="#c" x="2213" class="k0"/><use href="#c" x="2238.7" class="k0"/><use href="#c" x="2264.3" class="kb"/><use href="#c" x="2290" class="kb"/><use href="#c" x="2315.7" class="kb"/><use href="#c" x="2341.4" class="kc"/><use href="#c" x="2367.1" class="kb"/><use href="#c" x="2392.7" class="kc"/><use href="#c" x="2418.4" class="kc"/><use href="#c" x="2444.1" class="kc"/><use href="#c" x="2469.8" class="kc"/><use href="#c" x="2495.5" class="kd"/><use href="#c" x="2521.1" class="ke"/><use href="#c" x="2546.8" class="kr"/></g>
</g>
<g id="C-dendrograms">
<path class="dend" d="M1943.3 930V906H1969V930 M2046 930V916H2071.7V930 M2058.9 916V909.5H2097.4V930 M2123.1 930V913H2148.8V930 M2078.1 909.5V907H2135.9V913 M2020.4 930V905.5H2107V907 M1994.7 930V904H2063.7V905.5 M1956.1 906V902H2029.2V904 M2200.1 930V918H2225.8V930 M2174.4 930V916H2212.9V918 M2277.2 930V921H2302.8V930 M2251.5 930V918H2290V921 M2328.5 930V920H2354.2V930 M2379.9 930V919.5H2405.6V930 M2341.3 920V916H2392.7V919.5 M2270.7 918V913H2367V916 M2193.7 916V911H2318.9V913 M2456.9 930V926H2482.6V930 M2431.2 930V923H2469.7V926 M2450.5 923V920H2508.3V930 M2534 930V923H2559.6V930 M2479.4 920V916.5H2546.8V923 M2256.3 911V908.5H2513.1V916.5 M1992.6 902V899H2384.7V908.5"/>
<path class="dend" d="M1930 941.2H1906V961.6H1930 M1930 1022.9H1916V1043.4H1930 M1916 1033.2H1909.5V1063.8H1930 M1930 1084.2H1913V1104.6H1930 M1909.5 1048.5H1907V1094.4H1913 M1930 1002.5H1905.5V1071.4H1907 M1930 982.1H1904V1037H1905.5 M1906 951.4H1902V1009.5H1904 M1930 1145.5H1918V1165.9H1930 M1930 1125.1H1916V1155.7H1918 M1930 1206.8H1921V1227.2H1930 M1930 1186.4H1918V1217H1921 M1930 1247.7H1920V1268.1H1930 M1930 1288.5H1919.5V1308.9H1930 M1920 1257.9H1916V1298.7H1919.5 M1918 1201.7H1913V1278.3H1916 M1916 1140.4H1911V1240H1913 M1930 1349.8H1926V1370.2H1930 M1930 1329.4H1923V1360H1926 M1923 1344.7H1920V1390.7H1930 M1930 1411.1H1923V1431.5H1930 M1920 1367.7H1916.5V1421.3H1923 M1911 1190.2H1908.5V1394.5H1916.5 M1902 980.4H1899V1292.3H1908.5"/>
</g>
<g id="C-rowlabels">
<text class="hl" x="2576" y="945">HNRPA2/B1</text>
<text class="hl" x="2576" y="966">DDX41</text>
<text class="hl" x="2576" y="986">LRRFIP1</text>
<text class="hl" x="2576" y="1006">IFIX</text>
<text class="hl" x="2576" y="1027">MRE11</text>
<text class="hl" x="2576" y="1047">Ku70</text>
<text class="hl" x="2576" y="1068">Dicer1</text>
<text class="hl" x="2576" y="1088">DHX36</text>
<text class="hl" x="2576" y="1109">DHX9</text>
<text class="hl" x="2576" y="1129">NLRP6</text>
<text class="hl" x="2576" y="1149">DAI</text>
<text class="hl" x="2576" y="1170">NLRP1</text>
<text class="hl" x="2576" y="1190">AIM2</text>
<text class="hl" x="2576" y="1211">IFI16</text>
<text class="hl" x="2576" y="1231">PKR</text>
<text class="hl" x="2576" y="1251">OAS1</text>
<text class="hl" x="2576" y="1272">cGAS</text>
<text class="hl" x="2576" y="1292">ZAP</text>
<text class="hl" x="2576" y="1313">LGP2</text>
<text class="hl" x="2576" y="1333">TLR9</text>
<text class="hl" x="2576" y="1354">TLR7</text>
<text class="hl" x="2576" y="1374">TLR8</text>
<text class="hl" x="2576" y="1395">TLR3</text>
<text class="hl" x="2576" y="1415">MDA-5</text>
<text class="hl" x="2576" y="1435">RIG-I</text>
</g>
<g id="C-collabels">
<text class="hc" transform="translate(1948,1449) rotate(-45)">HNRPA2/B1</text>
<text class="hc" transform="translate(1974,1449) rotate(-45)">DDX41</text>
<text class="hc" transform="translate(2000,1449) rotate(-45)">LRRFIP1</text>
<text class="hc" transform="translate(2025,1449) rotate(-45)">IFIX</text>
<text class="hc" transform="translate(2051,1449) rotate(-45)">MRE11</text>
<text class="hc" transform="translate(2077,1449) rotate(-45)">Ku70</text>
<text class="hc" transform="translate(2102,1449) rotate(-45)">Dicer1</text>
<text class="hc" transform="translate(2128,1449) rotate(-45)">DHX36</text>
<text class="hc" transform="translate(2154,1449) rotate(-45)">DHX9</text>
<text class="hc" transform="translate(2179,1449) rotate(-45)">NLRP6</text>
<text class="hc" transform="translate(2205,1449) rotate(-45)">DAI</text>
<text class="hc" transform="translate(2231,1449) rotate(-45)">NLRP1</text>
<text class="hc" transform="translate(2257,1449) rotate(-45)">AIM2</text>
<text class="hc" transform="translate(2282,1449) rotate(-45)">IFI16</text>
<text class="hc" transform="translate(2308,1449) rotate(-45)">PKR</text>
<text class="hc" transform="translate(2334,1449) rotate(-45)">OAS1</text>
<text class="hc" transform="translate(2359,1449) rotate(-45)">cGAS</text>
<text class="hc" transform="translate(2385,1449) rotate(-45)">ZAP</text>
<text class="hc" transform="translate(2411,1449) rotate(-45)">LGP2</text>
<text class="hc" transform="translate(2436,1449) rotate(-45)">TLR9</text>
<text class="hc" transform="translate(2462,1449) rotate(-45)">TLR7</text>
<text class="hc" transform="translate(2488,1449) rotate(-45)">TLR8</text>
<text class="hc" transform="translate(2513,1449) rotate(-45)">TLR3</text>
<text class="hc" transform="translate(2539,1449) rotate(-45)">MDA-5</text>
<text class="hc" transform="translate(2565,1449) rotate(-45)">RIG-I</text>
</g>
<g id="C-legend">
<text x="2642" y="1160" style="font-size:12px">Distance</text>
<rect x="2644" y="1164" width="9" height="58" fill="url(#dist)"/>
<text x="2656" y="1170" style="font-size:9px">1</text>
<text x="2656" y="1196" style="font-size:9px">0.5</text>
<text x="2656" y="1222" style="font-size:9px">0</text>
</g>
</g>

<!-- ================= PANEL D ================= -->
<g id="panelD">
<text class="pl" x="1818" y="1585">D</text>
<g id="D-connectors">
<path class="tree" style="stroke-width:2" d="M2477 1572H2385V1595.25H2477 M2385 1583.6H2333.4V1618.5H2477 M2333.4 1601.05H2315V1641.75H2477 M2477 1665H2382.7V1688.25H2477 M2315 1621.4H2272.5V1676.6H2382.7 M2477 1711.5H2274V1734.75H2477 M2272.5 1649H2235.5V1723.1H2274 M2235.5 1686.05H2213V1758H2477 M2213 1722H2193V1781.25H2477 M2193 1751.6H2180.7V1804.5H2477 M2180.7 1778.05H2160V1827.75H2477
M2477 1851H2243V1874.25H2477 M2243 1862.6H2231.6V1897.5H2477 M2231.6 1880.05H2170.7V1920.75H2477 M2160 1802.9H2123V1900.4H2170.7
M2477 1944H2170.7V1967.25H2477 M2170.7 1955.6H2099V1990.5H2477 M2477 2013.75H2214.7V2037H2477 M2099 1973.05H2072.8V2025.4H2214.7 M2072.8 1999.2H2047.4V2060.25H2477 M2123 1851.65H2044.3V2029.7H2047.4
M2477 2106.75H2046.6V2130H2477 M2044.3 1940.7H1958.7V2083.5H2477 M1958.7 2012.1H1956.4V2118.4H2046.6"/>
</g>
<g id="D-leaves">
<text class="leafD lbD" x="2480" y="1577">TLR8</text>
<text class="leafD lbD" x="2480" y="1600">TLR7</text>
<text class="leafD lbD" x="2480" y="1623">TLR3</text>
<text class="leafD lbD" x="2480" y="1647">TLR9</text>
<text class="leafD lbD" x="2480" y="1670">MDA-5</text>
<text class="leafD lbD" x="2480" y="1693">RIG-I</text>
<text class="leafD lbD" x="2480" y="1716">ZAP</text>
<text class="leafD lbD" x="2480" y="1740">LGP2</text>
<text class="leafD lbD" x="2480" y="1763">cGAS</text>
<text class="leafD lbD" x="2480" y="1786">OAS1</text>
<text class="leafD lbD" x="2480" y="1809">PKR</text>
<text class="leafD lbD" x="2480" y="1833">IFI16</text>
<text class="leafD lbD" x="2480" y="1856">NLRP1</text>
<text class="leafD lbD" x="2480" y="1879">DAI</text>
<text class="leafD lbD" x="2480" y="1902">NLRP6</text>
<text class="leafD lbD" x="2480" y="1926">AIM2</text>
<text class="leafD lrD" x="2480" y="1949">DHX36</text>
<text class="leafD lrD" x="2480" y="1972">DHX9</text>
<text class="leafD lrD" x="2480" y="1995">Dicer1</text>
<text class="leafD lrD" x="2480" y="2019">Ku70</text>
<text class="leafD lrD" x="2480" y="2042">MRE11</text>
<text class="leafD" x="2480" y="2065" style="fill:#3a9b2f">IFIX</text>
<text class="leafD" x="2480" y="2088" style="fill:#a0522d">LRRFIP1</text>
<text class="leafD" x="2480" y="2112" style="fill:#6a3d9a">HNRPA2/B1</text>
<text class="leafD" x="2480" y="2135" style="fill:#f07d1a">DDX41</text>
</g>
<g id="D-scale">
<line x1="1956" y1="2164" x2="2084" y2="2164" stroke="#222" stroke-width="2"/>
<text x="2020" y="2154" style="font-size:9px;text-anchor:middle">0.1</text>
</g>
<g id="D-groups">
<path class="brk" d="M2542 1567H2559Q2563 1567 2563 1571V1595.5Q2563 1599.5 2585 1599.5Q2563 1599.5 2563 1603.5V1628Q2563 1632 2559 1632H2542"/>
<text class="grp cy" x="2591" y="1612">TLR3 group</text>
<path class="brk" d="M2542 1661H2559Q2563 1661 2563 1665V1690Q2563 1694 2585 1694Q2563 1694 2563 1698V1723.6Q2563 1727.6 2559 1727.6H2542"/>
<text class="grp cy" x="2591" y="1709">RIG-I group</text>
<path class="brk" d="M2542 1755.7H2559Q2563 1755.7 2563 1759.7V1785Q2563 1789 2585 1789Q2563 1789 2563 1793V1819Q2563 1823 2559 1823H2542"/>
<text class="grp cy" x="2591" y="1802">cGAS group</text>
<path class="brk" d="M2542 1849.5H2559Q2563 1849.5 2563 1853.5V1879Q2563 1883 2585 1883Q2563 1883 2563 1887V1912.7Q2563 1916.7 2559 1916.7H2542"/>
<text class="grp cy" x="2591" y="1896">NLRP1 group</text>
<path class="brk" d="M2542 1936H2559Q2563 1936 2563 1940V1960Q2563 1964 2585 1964Q2563 1964 2563 1968V1988Q2563 1992 2559 1992H2542"/>
<text class="grp red" x="2591" y="1978">DHX36 group</text>
<path class="brk" d="M2542 1999H2559Q2563 1999 2563 2003V2014Q2563 2018 2585 2018Q2563 2018 2563 2022V2033Q2563 2037 2559 2037H2542"/>
<text class="grp red" x="2591" y="2037">Ku70 group</text>
<path class="brk" d="M2575 2053H2594.6Q2598.6 2053 2598.6 2057V2089Q2598.6 2093 2620 2093Q2598.6 2093 2598.6 2097V2129Q2598.6 2133 2594.6 2133H2575"/>
<text class="grp" x="2627" y="2109">Unclustered</text>
<path class="brk" d="M2795 1601.5H2816Q2820 1601.5 2820 1605.5V1741Q2820 1745 2840 1745Q2820 1745 2820 1749V1884.5Q2820 1888.5 2816 1888.5H2795"/>
<text class="grp cy" x="2848" y="1759">TLR cluster</text>
<path class="brk" d="M2800.6 1963.8H2819.8Q2823.8 1963.8 2823.8 1967.8V1993Q2823.8 1997 2846 1997Q2823.8 1997 2823.8 2001V2026Q2823.8 2030 2819.8 2030H2800.6"/>
<text class="grp red" x="2854" y="2010">DHX36 cluster</text>
</g>
</g>
</svg>
